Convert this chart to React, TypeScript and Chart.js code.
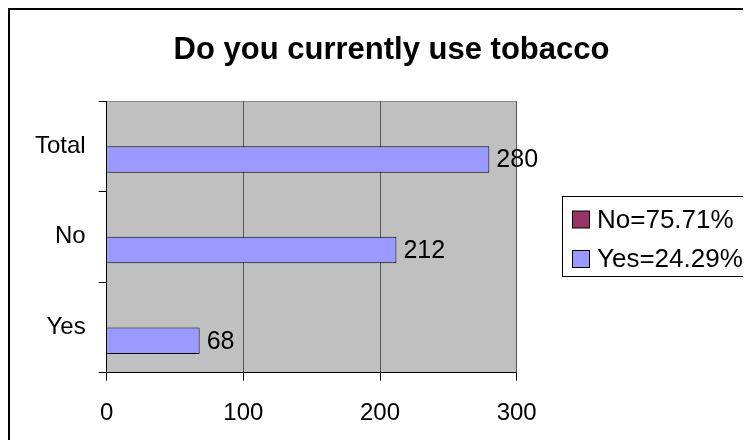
import React, { useEffect, useRef } from "react";
import { Chart, registerables } from "chart.js";

Chart.register(...registerables);

// Survey answers, in the order they are listed from top to bottom
const categories = ["Total", "No", "Yes"];
const respondents = [280, 212, 68];
const noShareLabel = "No=75.71%";
const yesShareLabel = "Yes=24.29%";
const chartTitle = "Do you currently use tobacco";
const axisMin = 0;
const axisMax = 300;
const axisStep = 100;

const FONT = "'Liberation Sans', Arial, Helvetica, sans-serif";
const NO_COLOR = "#993366";
const YES_COLOR = "#9999FF";
const PLOT_BG = "#C0C0C0";

const W = 743;
const H = 432;

// Plot area background, frame, title, value labels and the boxed legend
const decorPlugin = {
  id: "decor",
  beforeDraw(chart: any) {
    const { ctx, chartArea } = chart;
    const { left, top, right, bottom } = chartArea;
    ctx.save();
    ctx.fillStyle = PLOT_BG;
    ctx.fillRect(left, top, right - left, bottom - top);
    ctx.strokeStyle = "#8a8a8a";
    ctx.lineWidth = 1;
    ctx.beginPath();
    ctx.moveTo(left, Math.round(top) + 0.5);
    ctx.lineTo(right, Math.round(top) + 0.5);
    ctx.stroke();
    ctx.restore();
  },
  afterDatasetsDraw(chart: any) {
    const { ctx } = chart;
    const dsIndex = 1;
    const meta = chart.getDatasetMeta(dsIndex);
    const values = chart.data.datasets[dsIndex].data as number[];
    ctx.save();
    ctx.fillStyle = "#000";
    ctx.font = `25px ${FONT}`;
    ctx.textAlign = "left";
    ctx.textBaseline = "middle";
    meta.data.forEach((bar: any, i: number) => {
      if (values[i] == null) return;
      ctx.fillText(String(values[i]), bar.x + 7, bar.y + 1);
    });
    ctx.restore();
  },
  afterDraw(chart: any) {
    const { ctx } = chart;
    ctx.save();
    // chart frame (left and top edges fall inside the canvas)
    ctx.fillStyle = "#000";
    ctx.fillRect(0, 0, 2, H);
    ctx.fillRect(0, 0, W, 2);

    // title
    ctx.font = `bold 31px ${FONT}`;
    ctx.textAlign = "center";
    ctx.textBaseline = "alphabetic";
    ctx.fillText(chartTitle, 383.5, 50.5);

    // legend box
    const lx = 554.5;
    const ly = 188.5;
    ctx.strokeStyle = "#000";
    ctx.lineWidth = 1;
    ctx.strokeRect(lx, ly, 260, 80);
    const items = chart.data.datasets.map((d: any) => ({
      label: d.label,
      color: d.backgroundColor,
    }));
    ctx.font = `26px ${FONT}`;
    ctx.textAlign = "left";
    ctx.textBaseline = "middle";
    items.forEach((it: any, i: number) => {
      const cy = 211.5 + i * 39.5;
      ctx.fillStyle = it.color;
      ctx.fillRect(564.5, cy - 8.5, 17, 17);
      ctx.strokeStyle = "#000";
      ctx.strokeRect(564.5, cy - 8.5, 17, 17);
      ctx.fillStyle = "#000";
      ctx.fillText(it.label, 589, cy + 1);
    });
    ctx.restore();
  },
};

export default function App() {
  const canvasRef = useRef<HTMLCanvasElement | null>(null);

  useEffect(() => {
    const canvas = canvasRef.current;
    if (!canvas) return;
    const chart = new Chart(canvas, {
      type: "bar",
      data: {
        labels: categories,
        datasets: [
          {
            label: noShareLabel,
            data: categories.map(() => null),
            backgroundColor: NO_COLOR,
            borderColor: "#000",
            borderWidth: 1,
          },
          {
            label: yesShareLabel,
            data: respondents,
            backgroundColor: YES_COLOR,
            borderColor: "#000",
            borderWidth: 1,
          },
        ],
      },
      options: {
        indexAxis: "y",
        responsive: false,
        animation: false,
        events: [],
        layout: { padding: { top: 93, right: 234.3, left: 0, bottom: 7.3 } },
        datasets: {
          bar: { categoryPercentage: 0.585, barPercentage: 1 },
        },
        plugins: {
          legend: { display: false },
          title: { display: false },
          tooltip: { enabled: false },
        },
        scales: {
          x: {
            type: "linear",
            min: axisMin,
            max: axisMax,
            ticks: {
              stepSize: axisStep,
              color: "#000",
              font: { family: FONT, size: 24 },
              padding: 18,
            },
            grid: {
              color: (c: any) => (c.index === 0 ? "rgba(0,0,0,0)" : "#555555"),
              tickColor: "#000",
              tickLength: 8,
              lineWidth: 1,
            },
            border: { color: "#000", width: 1 },
            afterFit: (s: any) => {
              s.height = 60;
            },
          },
          y: {
            type: "category",
            offset: true,
            ticks: {
              color: "#000",
              font: { family: FONT, size: 24 },
              padding: 13,
            },
            grid: {
              offset: true,
              drawOnChartArea: false,
              tickColor: "#000",
              tickLength: 8,
            },
            border: { color: "#000", width: 1 },
            afterFit: (s: any) => {
              s.width = 98.7;
            },
          },
        },
      },
      plugins: [decorPlugin],
    });
    return () => chart.destroy();
  }, []);

  return (
    <div style={{ width: W, height: H, overflow: "hidden", background: "#fff" }}>
      <canvas ref={canvasRef} width={W} height={H} style={{ display: "block" }} />
    </div>
  );
}
